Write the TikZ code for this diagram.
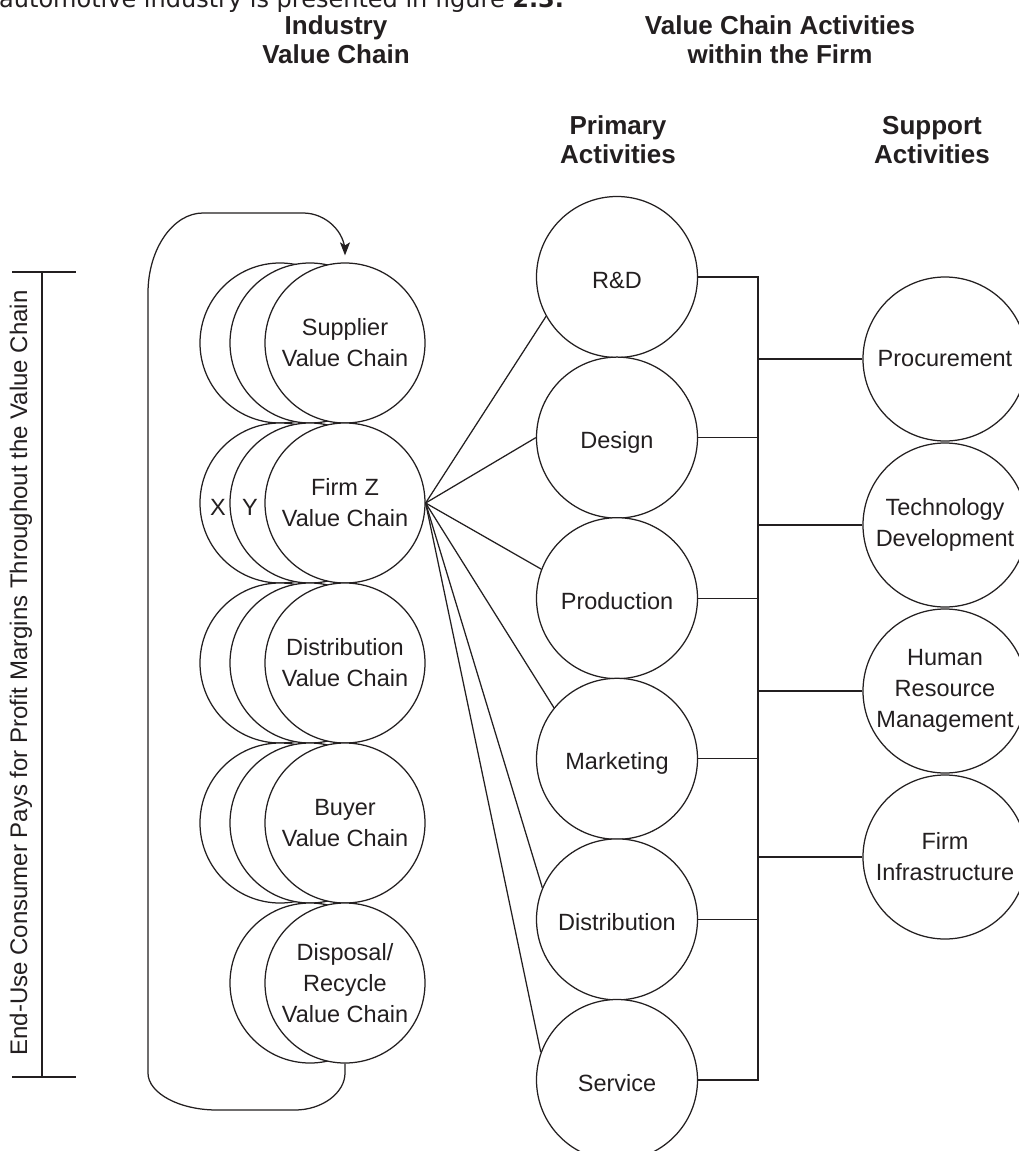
\documentclass[tikz,border=0pt]{standalone}
\usepackage{fontspec}
\setmainfont{Liberation Sans}
\newfontfamily\introfont{DejaVu Sans}
\usetikzlibrary{arrows.meta,calc}
\definecolor{ink}{RGB}{35,31,32}
\newcommand\vcbody{\fontsize{23.5}{31}\selectfont}
\newcommand\vchead{\fontsize{26}{29}\selectfont\bfseries}

\begin{document}
\begin{tikzpicture}[x=1pt,y=-1pt,
  chain/.style={circle, draw=ink, line width=1.25pt, fill=white, minimum size=160pt,
    inner sep=0pt, align=center, font=\vcbody, text=ink},
  prim/.style={chain, minimum size=161pt, text height=22pt, text depth=0pt},
  supp/.style={chain, minimum size=164pt},
  head/.style={align=center, font=\vchead, text=ink, inner sep=0pt},
  tag/.style={font=\vcbody, text=ink, inner sep=0pt},
  link/.style={draw=ink, line width=1.25pt},
]
\useasboundingbox (0,0) rectangle (1019,1151);
\fill[white] (0,0) rectangle (1019,1151);
\clip (0,0) rectangle (1019,1151);

% running text above the figure (its upper half lies beyond the top edge)
\node[anchor=base west, inner sep=0pt, font=\introfont\fontsize{24}{28}\selectfont, text=ink]
  (intro) at (-1,8) {automotive industry is presented in figure \textbf{2.3.}};

% column headings
\node[head] (hInd) at (336,40) {Industry\\Value Chain};
\node[head] (hVca) at (780,40) {Value Chain Activities\\within the Firm};
\node[head] (hPri) at (618,140) {Primary\\Activities};
\node[head] (hSup) at (932,140) {Support\\Activities};

% industry value chain: stacked circles
\node[chain] (supA) at (280,343) {};
\node[chain] (supB) at (310,343) {};
\node[chain] (sup)  at (345,343) {Supplier\\Value Chain};

\node[chain] (fzA) at (280,503) {};
\node[chain] (fzB) at (310,503) {};
\node[chain] (fz)  at (345,503) {Firm Z\\Value Chain};
\node[tag] (tagX) at (218,507) {X};
\node[tag] (tagY) at (250,507) {Y};

\node[chain] (dvA) at (280,663) {};
\node[chain] (dvB) at (310,663) {};
\node[chain] (dv)  at (345,663) {Distribution\\Value Chain};

\node[chain] (byA) at (280,823) {};
\node[chain] (byB) at (310,823) {};
\node[chain] (by)  at (345,823) {Buyer\\Value Chain};

\node[chain] (dsB) at (310,983) {};
\node[chain] (ds)  at (345,983) {Disposal/\\Recycle\\Value Chain};

% loop back from disposal to supplier
\draw[link, -{Stealth[length=13pt,width=10pt,inset=3pt]}, shorten >=7pt]
  (ds.south) -- (345,1073)
  .. controls (345,1093) and (322,1110) .. (295,1110) -- (217,1110)
  .. controls (179,1110) and (148,1093) .. (148,1073) -- (148,293)
  .. controls (148,249) and (173,213) .. (203,213) -- (303,213)
  .. controls (326,213) and (345,232) .. (345,252) -- (sup.north);

% end-use consumer bracket
\coordinate (brT) at (42,272);
\coordinate (brB) at (42,1077);
\draw[link] (brT) -- (brB);
\draw[link] ($(brT)+(-30,0)$) -- ($(brT)+(34,0)$);
\draw[link] ($(brB)+(-30,0)$) -- ($(brB)+(34,0)$);
\node[rotate=90, font=\fontsize{24}{28}\selectfont, text=ink, inner sep=0pt]
  (endUse) at (21,673) {End-Use Consumer Pays for Profit Margins Throughout the Value Chain};

% primary activities
\node[prim] (rd) at (617,277)   {R\&D};
\node[prim] (dg) at (617,437.6) {Design};
\node[prim] (pd) at (617,598.2) {Production};
\node[prim] (mk) at (617,758.8) {Marketing};
\node[prim] (di) at (617,919.4) {Distribution};
\node[prim] (sv) at (617,1080)  {Service};

% support activities
\node[supp] (pc) at (945,359) {Procurement};
\node[supp] (td) at (945,525) {Technology\\Development};
\node[supp] (hr) at (945,691) {Human\\Resource\\Management};
\node[supp] (fi) at (945,857) {Firm\\Infrastructure};

% fan from the firm to its primary activities
\draw[link] (fz.east) -- (rd.209);
\draw[link] (fz.east) -- (dg.180);
\draw[link] (fz.east) -- (pd.159);
\draw[link] (fz.east) -- (mk.141);
\draw[link] (fz.east) -- (di.157);
\draw[link] (fz.east) -- (sv.160);

% bus linking primary and support activities
\coordinate (bus) at (758,1080);
\draw[link] (rd.east) -| (bus) -- (sv.east);
\foreach \n in {dg,pd,mk,di}
  \draw[link] (\n.east) -- (\n.east -| bus);
\foreach \n in {pc,td,hr,fi}
  \draw[link] (\n.west) -- (\n.west -| bus);
\end{tikzpicture}
\end{document}
